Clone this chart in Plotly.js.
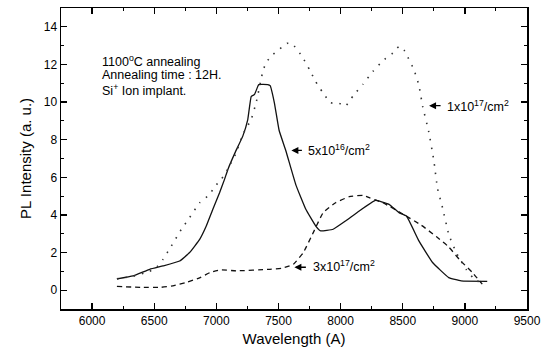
<!DOCTYPE html>
<html>
<head>
<meta charset="utf-8">
<script src="https://cdn.plot.ly/plotly-3.0.1.min.js"></script>
<style>html,body{margin:0;padding:0;background:#fff;}#chart{width:547px;height:351px;}</style>
</head>
<body>
<div id="chart"></div>
<script>
// 5x10^16 /cm^2 (solid)
const solidX = [6200, 6330, 6464, 6571, 6705, 6785, 6866, 6919, 6972, 7026, 7066, 7093, 7150, 7213, 7253, 7281, 7307, 7334, 7342, 7414, 7433, 7467, 7505, 7560, 7640, 7720, 7800, 7840, 7940, 8040, 8150, 8280, 8330, 8390, 8470, 8530, 8630, 8740, 8870, 8970, 9180];
const solidY = [0.6, 0.76, 1.11, 1.29, 1.55, 2.0, 2.7, 3.41, 4.3, 5.18, 5.89, 6.42, 7.3, 8.19, 9.07, 10.3, 10.4, 10.84, 10.93, 10.93, 10.87, 9.96, 8.5, 7.4, 5.6, 4.3, 3.41, 3.15, 3.24, 3.68, 4.21, 4.77, 4.7, 4.56, 4.12, 3.94, 2.62, 1.47, 0.67, 0.49, 0.47];

// 3x10^17 /cm^2 (dashed)
const dashX = [6200, 6400, 6550, 6650, 6760, 6870, 6950, 7030, 7160, 7430, 7530, 7620, 7700, 7780, 7860, 7960, 8070, 8180, 8230, 8340, 8500, 8650, 8770, 8870, 8960, 9060, 9140];
const dashY = [0.2, 0.15, 0.15, 0.23, 0.41, 0.67, 0.94, 1.08, 1.03, 1.11, 1.17, 1.38, 2.0, 3.06, 4.12, 4.65, 4.97, 5.04, 4.92, 4.65, 4.05, 3.45, 2.85, 2.3, 1.6, 0.94, 0.32];

// 1x10^17 /cm^2 (dotted)
const dotX = [6200, 6330, 6460, 6510, 6571, 6638, 6719, 6785, 6866, 6946, 6986, 7040, 7090, 7160, 7213, 7280, 7320, 7360, 7374, 7400, 7450, 7570, 7610, 7690, 7750, 7800, 7850, 7920, 7980, 8040, 8100, 8180, 8260, 8340, 8420, 8470, 8510, 8590, 8630, 8660, 8710, 8750, 8780, 8820, 8870, 8930, 9010, 9090, 9150];
const dotY = [0.6, 0.74, 1.0, 1.15, 1.64, 2.35, 3.24, 3.86, 4.65, 5.09, 5.5, 5.89, 6.42, 7.3, 8.28, 9.07, 9.96, 11.2, 11.63, 12.1, 12.5, 13.12, 13.1, 12.43, 11.72, 11.08, 10.57, 9.96, 9.96, 9.78, 10.33, 10.95, 11.63, 12.2, 12.6, 12.96, 12.77, 11.72, 10.9, 9.78, 8.4, 6.9, 5.4, 4.39, 2.97, 2.0, 1.11, 0.49, 0.45];

const xTickVals = [6000, 6500, 7000, 7500, 8000, 8500, 9000, 9500];
const yTickVals = [0, 2, 4, 6, 8, 10, 12, 14];

const FONT = 'Liberation Sans, Arial, sans-serif';

const traces = [
  {x: solidX, y: solidY, mode: 'lines', line: {color: '#111', width: 1.3, shape: 'spline', smoothing: 0.3}, hoverinfo: 'skip'},
  {x: dashX, y: dashY, mode: 'lines', line: {color: '#111', width: 1.3, dash: '5px,4px', shape: 'spline', smoothing: 0.4}, hoverinfo: 'skip'},
  {x: dotX, y: dotY, mode: 'lines', line: {color: '#333', width: 1.6, dash: '1.5px,7px', shape: 'spline', smoothing: 0.3}, hoverinfo: 'skip'}
];

const txt = (x, y, t, extra) => Object.assign({x: x, y: y, xref: 'x', yref: 'y', text: t, showarrow: false, xanchor: 'left', yanchor: 'middle', font: {family: FONT, size: 12.5, color: '#000'}}, extra || {});
const arr = (x, y, ax) => ({x: x, y: y, xref: 'x', yref: 'y', ax: ax, ay: 0, text: '', showarrow: true, arrowhead: 2, arrowsize: 1, arrowwidth: 1.4, arrowcolor: '#000', standoff: 0, startstandoff: 0});

const layout = {
  width: 547, height: 351,
  margin: {l: 61, r: 20, t: 8, b: 42},
  paper_bgcolor: '#fff', plot_bgcolor: '#fff',
  showlegend: false,
  font: {family: FONT, color: '#000', size: 12},
  xaxis: {
    range: [5750, 9500], tickvals: xTickVals, ticktext: xTickVals.map(String),
    ticks: 'inside', ticklen: 6, tickwidth: 1.3, tickcolor: '#000',
    showline: true, linecolor: '#000', linewidth: 1.5, mirror: 'ticks',
    showgrid: false, zeroline: false,
    minor: {ticks: 'inside', ticklen: 3, tickwidth: 1, tickcolor: '#000', dtick: 250, tick0: 5750, showgrid: false},
    tickfont: {size: 12, family: FONT},
    title: {text: 'Wavelength (A)', font: {size: 15, family: FONT}, standoff: 6}
  },
  yaxis: {
    range: [-1, 15], tickvals: yTickVals, ticktext: yTickVals.map(String),
    ticks: 'inside', ticklen: 6, tickwidth: 1.3, tickcolor: '#000',
    showline: true, linecolor: '#000', linewidth: 1.5, mirror: 'ticks',
    showgrid: false, zeroline: false,
    minor: {ticks: 'inside', ticklen: 3, tickwidth: 1, tickcolor: '#000', dtick: 1, tick0: 0, showgrid: false},
    tickfont: {size: 12, family: FONT},
    title: {text: 'PL Intensity (a. u.)', font: {size: 15, family: FONT}, standoff: 8}
  },
  annotations: [
    txt(6063, 12.2, '1100<sup>o</sup>C annealing'),
    txt(6063, 11.43, 'Annealing time : 12H.'),
    txt(6063, 10.66, 'Si<sup>+</sup> Ion implant.'),
    arr(8712, 9.81, 13),
    txt(8840, 9.81, '1x10<sup>17</sup>/cm<sup>2</sup>'),
    arr(7604, 7.43, 12),
    txt(7725, 7.43, '5x10<sup>16</sup>/cm<sup>2</sup>'),
    arr(7628, 1.22, 13),
    txt(7765, 1.27, '3x10<sup>17</sup>/cm<sup>2</sup>')
  ]
};

Plotly.newPlot('chart', traces, layout, {staticPlot: true, displayModeBar: false});
</script>
</body>
</html>
